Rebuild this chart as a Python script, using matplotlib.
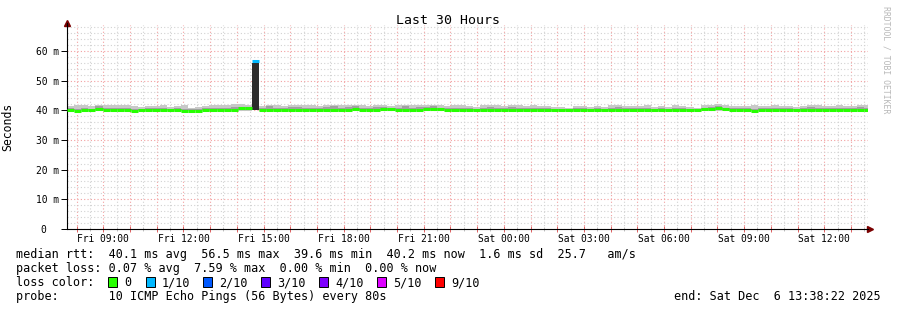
import datetime as dt
import matplotlib
matplotlib.use('Agg')
import matplotlib.pyplot as plt
import matplotlib.dates as mdates
from matplotlib.patches import Rectangle
from matplotlib.ticker import MultipleLocator, FuncFormatter

plt.rcParams['font.family'] = 'DejaVu Sans Mono'

# time window (last 30 hours), smokeping bins of 16 minutes
start = dt.datetime(2025, 12, 5, 7, 38, 22)
end = dt.datetime(2025, 12, 6, 13, 38, 22)
bin_len = dt.timedelta(seconds=960)

# median rtt per bin (ms)
median = [40.1, 39.6, 40.1, 40.1, 40.3, 40.1, 40.1, 40.1, 40.1, 39.6,
          40.1, 40.1, 40.1, 40.1, 40.1, 40.1, 39.6, 39.6, 39.6, 40.1,
          40.1, 40.1, 40.1, 40.2, 40.6, 40.6, 56.5, 40.2, 40.1, 40.1,
          40.1, 40.1, 40.2, 40.1, 40.1, 40.1, 40.1, 40.2, 40.1, 40.2,
          40.3, 40.1, 40.1, 40.1, 40.5, 40.5, 40.2, 40.1, 40.1, 40.1,
          40.5, 40.5, 40.4, 40.1, 40.1, 40.1, 40.1, 40.1, 40.1, 40.1,
          40.1, 40.1, 40.1, 40.1, 40.1, 40.1, 40.1, 40.1, 40.1, 40.1,
          40.1, 40.1, 40.1, 40.1, 40.1, 40.1, 40.1, 40.1, 40.1, 40.1,
          40.1, 40.1, 40.1, 40.1, 40.1, 40.1, 40.1, 40.1, 40.1, 40.3,
          40.4, 40.6, 40.3, 40.1, 40.1, 40.1, 39.6, 40.1, 40.1, 40.1,
          40.1, 40.1, 40.1, 40.1, 40.1, 40.1, 40.1, 40.1, 40.1, 40.1,
          40.1, 40.1, 40.2]

# lost pings out of 10 per bin
loss = [0] * 26 + [1] + [0] * 86

# smoke: top of outer (light) band and inner (darker) band, ms
smoke_hi = [41.4, 41.6, 41.6, 41.3, 41.9, 41.6, 41.6, 41.6, 41.6, 41.5,
            41.0, 41.3, 41.3, 41.6, 41.0, 41.3, 41.6, 40.9, 41.0, 41.3,
            41.6, 41.6, 41.9, 42.0, 42.0, 41.9, 56.0, 41.3, 41.9, 41.6,
            41.3, 41.6, 41.9, 41.6, 41.6, 41.3, 41.6, 41.9, 41.6, 41.6,
            41.9, 41.6, 41.3, 41.9, 41.6, 41.3, 41.6, 41.9, 41.6, 41.9,
            41.6, 41.9, 41.6, 41.3, 41.6, 41.6, 41.3, 41.0, 41.6, 41.9,
            41.6, 41.3, 41.9, 41.6, 41.3, 41.6, 41.3, 41.3, 41.0, 41.0,
            40.9, 41.3, 41.3, 41.0, 41.3, 41.0, 41.6, 41.9, 41.3, 41.3,
            41.3, 41.6, 41.0, 41.3, 41.0, 41.6, 41.3, 41.0, 40.9, 41.6,
            41.9, 42.1, 41.6, 41.3, 41.3, 41.3, 41.6, 41.3, 41.3, 41.6,
            41.3, 41.3, 41.0, 41.3, 41.9, 41.6, 41.3, 41.3, 41.6, 41.3,
            41.3, 41.9, 41.6]
smoke_mid = [40.6, 40.5, 40.9, 40.5, 41.3, 40.9, 40.6, 40.9, 40.6, 40.5,
             40.5, 40.9, 40.6, 40.9, 40.5, 40.6, 40.5, 40.5, 40.5, 40.6,
             40.6, 40.9, 40.6, 41.0, 41.1, 41.1, 56.0, 40.9, 41.3, 40.6,
             40.6, 41.0, 41.1, 40.9, 40.6, 40.6, 41.0, 41.3, 40.6, 41.0,
             41.3, 40.9, 40.6, 41.0, 41.1, 40.9, 40.6, 41.3, 40.9, 41.0,
             41.0, 41.3, 40.9, 40.6, 40.9, 40.6, 40.6, 40.5, 40.9, 41.0,
             40.6, 40.6, 41.0, 40.9, 40.6, 40.6, 40.6, 40.6, 40.5, 40.5,
             40.5, 40.6, 40.6, 40.5, 40.6, 40.5, 40.9, 41.0, 40.6, 40.6,
             40.6, 40.9, 40.5, 40.6, 40.5, 40.9, 40.6, 40.5, 40.5, 40.9,
             41.0, 41.3, 40.9, 40.6, 40.6, 40.6, 40.5, 40.6, 40.6, 40.9,
             40.6, 40.6, 40.5, 40.6, 41.0, 40.9, 40.6, 40.6, 40.9, 40.6,
             40.6, 41.0, 40.9]
smoke_lo = 39.9

loss_names = ['0', '1/10', '2/10', '3/10', '4/10', '5/10', '9/10']
loss_colors = ['#26ff00', '#00b8ff', '#0059ff', '#5e00ff', '#7e00ff', '#dd00ff', '#ff0000']
loss_steps = [0, 1, 2, 3, 4, 5, 9]

stats_lines = [
    'median rtt:  40.1 ms avg  56.5 ms max  39.6 ms min  40.2 ms now  1.6 ms sd  25.7   am/s',
    'packet loss: 0.07 % avg  7.59 % max  0.00 % min  0.00 % now',
]
probe_text = 'probe:       10 ICMP Echo Pings (56 Bytes) every 80s'
end_text = 'end: Sat Dec  6 13:38:22 2025'

W, H = 897, 310
fig = plt.figure(figsize=(W / 100, H / 100), dpi=100)


def px(x, y):
    return x / W, 1 - y / H


ax = fig.add_axes([67 / W, 1 - 229 / H, (868 - 67) / W, (229 - 25) / H])

lefts = [start + i * bin_len for i in range(len(median))]
width = bin_len.total_seconds() / 86400
xl = mdates.date2num(lefts)

# smoke bands
for i in range(len(median)):
    if i == 26:
        ax.bar(xl[i], smoke_hi[i] - 40.2, width=width, bottom=40.2, align='edge',
               color='#2b2b2b', linewidth=0, zorder=2)
        continue
    ax.bar(xl[i], smoke_hi[i] - smoke_lo, width=width, bottom=smoke_lo, align='edge',
           color='#c8c8c8', linewidth=0, zorder=2)
    ax.bar(xl[i], smoke_mid[i] - smoke_lo - 0.2, width=width, bottom=smoke_lo + 0.2,
           align='edge', color='#a0a0a0', linewidth=0, zorder=2)

# median line coloured by loss
for i in range(len(median)):
    c = loss_colors[max(k for k, s in enumerate(loss_steps) if s <= loss[i])]
    ax.hlines(median[i], xl[i], xl[i] + width, colors=c, linewidth=2.2, zorder=3)

ax.set_xlim(mdates.date2num(start), mdates.date2num(end))
ax.set_ylim(0, 68.7)

ax.xaxis.set_major_locator(mdates.HourLocator())
ax.xaxis.set_minor_locator(mdates.MinuteLocator(byminute=[30]))
ax.xaxis.set_major_formatter(FuncFormatter(
    lambda v, p: mdates.num2date(v).strftime('%a %H:%M') if mdates.num2date(v).hour % 3 == 0 else ''))
ax.yaxis.set_major_locator(MultipleLocator(10))
ax.yaxis.set_minor_locator(MultipleLocator(2))
ax.yaxis.set_major_formatter(FuncFormatter(lambda v, p: '%2.0f m' % v if v > 0 else '0  '))

ax.grid(which='major', color='#f2a0a0', linestyle=(0, (1, 2)), linewidth=0.8, zorder=0)
ax.grid(which='minor', color='#d2d2d2', linestyle=(0, (1, 2)), linewidth=0.8, zorder=0)
ax.set_axisbelow(True)

ax.tick_params(axis='x', which='major', direction='inout', length=5, width=0.7,
               color='#e06060', labelsize=6.9, pad=1)
ax.tick_params(axis='x', which='minor', direction='inout', length=3, width=0.7, color='#c0c0c0')
ax.tick_params(axis='y', which='major', direction='out', length=4, width=0.7, labelsize=6.9, pad=2)
ax.tick_params(axis='y', which='minor', length=0)

for s in ['top', 'right']:
    ax.spines[s].set_visible(False)
for s in ['left', 'bottom']:
    ax.spines[s].set_linewidth(0.8)

# axis arrows
ax.plot([0], [1.01], marker='^', color='#7a0000', markersize=4, transform=ax.transAxes, clip_on=False)
ax.plot([1.003], [0], marker='>', color='#7a0000', markersize=4, transform=ax.transAxes, clip_on=False)
ax.plot([0, 0], [1.0, 1.01], color='black', linewidth=0.8, transform=ax.transAxes, clip_on=False)

ax.set_ylabel('Seconds', fontsize=8.3)
ax.yaxis.set_label_coords(-0.066, 0.5)

fig.text(*px(448, 20), 'Last 30 Hours', fontsize=9.5, ha='center', va='center')
fig.text(*px(886, 60), 'RRDTOOL / TOBI OETIKER', fontsize=5.9, rotation=270,
         ha='center', va='center', color='#b8b8b8')

for j, line in enumerate(stats_lines):
    fig.text(*px(16, 254.5 + 14 * j), line, fontsize=8.5, ha='left', va='center')

fig.text(*px(16, 282.5), 'loss color:', fontsize=8.5, ha='left', va='center')
box_x = [108, 146, 203, 261, 319, 377, 435]
for bx, name, col in zip(box_x, loss_names, loss_colors):
    fig.patches.append(Rectangle(px(bx, 287), 9 / W, 10 / H, transform=fig.transFigure,
                                 facecolor=col, edgecolor='black', linewidth=0.7))
    fig.text(*px(bx + 16, 282.5), name, fontsize=8.5, ha='left', va='center')

fig.text(*px(16, 296.5), probe_text, fontsize=8.5, ha='left', va='center')
fig.text(*px(881, 296.5), end_text, fontsize=8.5, ha='right', va='center')

fig.savefig('out.png', dpi=100, facecolor='white')
